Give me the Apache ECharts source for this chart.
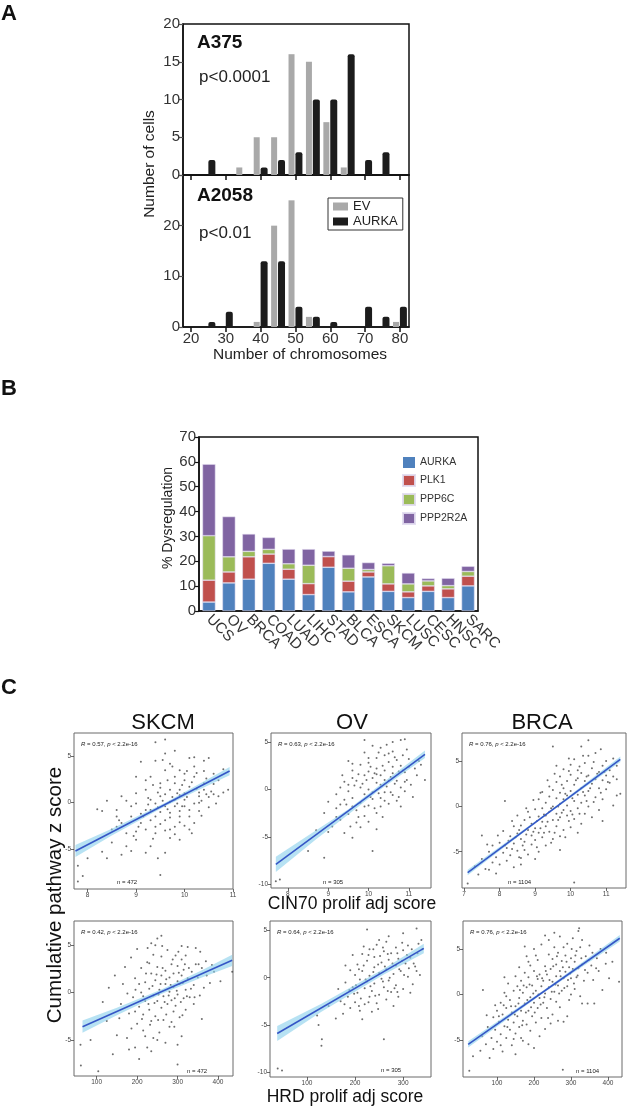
<!DOCTYPE html>
<html>
<head>
<meta charset="utf-8">
<script src="https://cdn.jsdelivr.net/npm/echarts@6/dist/echarts.min.js"></script>
<style>
  html, body { margin: 0; padding: 0; background: #fff; }
  #main { width: 630px; height: 1109px; }
</style>
</head>
<body>
<div id="main"></div>
<script>
// ---------- A: chromosome number histograms ----------
var chromBins  = [25, 30, 35, 40, 45, 50, 55, 60, 65, 70, 75, 80];
var chromTicks = [20, 30, 40, 50, 60, 70, 80];
var a375EV     = [0, 0, 1, 5, 5, 16, 15, 7, 1, 0, 0, 0];
var a375AURKA  = [2, 0, 0, 1, 2, 3, 10, 10, 16, 2, 3, 0];
var a2058EV    = [0, 0, 0, 1, 20, 25, 2, 0, 0, 0, 0, 1];
var a2058AURKA = [1, 3, 0, 13, 13, 4, 2, 1, 0, 4, 2, 4];

// ---------- B: % dysregulation per tumour type ----------
var cancerTypes = ['UCS', 'OV', 'BRCA', 'COAD', 'LUAD', 'LIHC', 'STAD', 'BLCA', 'ESCA', 'SKCM', 'LUSC', 'CESC', 'HNSC', 'SARC'];
var dysAURKA   = [3.6, 11.3, 12.8, 19.2, 12.8, 6.6, 17.6, 7.7, 13.7, 7.9, 5.4, 7.9, 5.4, 10.1];
var dysPLK1    = [8.8, 4.4, 9.0, 3.7, 4.0, 4.4, 4.3, 4.3, 2.0, 3.0, 2.3, 2.2, 3.5, 3.9];
var dysPPP6C   = [17.9, 6.1, 2.2, 1.9, 2.2, 7.4, 0, 5.2, 1.0, 7.3, 3.2, 2.0, 1.3, 1.9];
var dysPPP2R2A = [28.8, 16.2, 7.0, 4.8, 5.9, 6.5, 2.2, 5.4, 2.8, 1.0, 4.4, 1.0, 3.0, 2.1];

// ---------- C: pathway z score vs proliferation scores ----------
var skcmCin = [[9.4,6.5],[9.6,6.8],[9.8,5.6],[10.1,4.8],[10.4,4.5],[10.5,4.8],[9.1,4.4],[9.4,4.5],[9.7,4.2],[9.9,3.5],[10.2,3.9],[10.6,3.1],[10.9,1.4],[10.7,0.7],[10.5,0.6],[8.7,0.7],[8.2,-0.7],[8.3,-0.9],[8.4,0.2],[8.6,-1.5],[8.6,-2.6],[8.7,-2.2],[8.0,-6.0],[7.8,-6.8],[7.9,-7.9],[7.8,-8.5],[8.3,-5.3],[8.4,-6.0],[8.7,-5.6],[8.8,-4.7],[9.0,-4.0],[9.3,-4.7],[9.5,-7.8],[9.6,-5.4],[9.9,-4.0],[10.1,-2.9],[10.2,-2.2],[9.4,-3.3],[9.2,-2.9],[9.1,-2.2],[8.9,-1.5],[9.2,-0.8],[9.4,-0.1],[9.5,0.7],[9.7,1.4],[9.8,2.1],[10.0,2.4],[10.1,1.7],[10.2,2.8],[10.4,2.1],[10.4,1.4],[10.0,0.3],[9.8,-0.4],[9.7,-1.1],[9.6,-1.9],[9.4,-1.5],[9.3,-0.8],[9.2,1.4],[9.2,2.4],[9.3,2.8],[9.6,3.5],[9.8,2.8],[9.9,1.4],[10.0,-0.4],[10.2,-0.1],[10.3,0.7],[10.1,-1.5],[9.8,-2.6],[9.7,-2.9],[10.0,3.1],[10.2,4.9],[9.5,2.1],[9.0,-0.1],[8.9,-0.4],[8.8,-3.3],[9.0,1.0],[8.6,-0.8],[9.9,-1.5],[9.6,-0.4],[9.4,-2.6],[9.8,0.3],[9.6,0.9],[9.7,0.1],[9.9,0.8],[10.3,1.1],[10.6,2.0],[10.8,3.6],[10.3,-0.9],[9.5,-1.0],[9.3,0.3],[9.1,-1.2],[10.0,1.0],[9.9,-0.9],[10.5,-0.5],[9.0,-3.1],[8.5,-4.3],[9.2,-5.4],[10.4,3.4],[9.5,1.6],[9.7,-3.8],
  [9.25,0.5],[9.35,1.9],[9.45,-0.5],[9.55,0.2],[9.65,-0.7],[9.75,0.6],[9.85,-0.1],[9.95,1.9],[10.05,0.6],[10.15,2.2],[10.25,1.5],[10.35,0.2],[10.45,2.6],[10.55,1.2],[9.3,-1.9],[9.5,-2.3],[9.7,-1.6],[9.9,-2.1],[10.1,-0.8],[10.3,0.0],[9.45,1.1],[9.65,2.4],[9.85,1.0],[10.05,3.4],[10.25,3.2],[9.15,-1.5],[9.05,-2.6],[8.95,-3.6],[9.35,-3.9],[9.6,-3.0],[9.8,-3.4],[10.0,-2.5],[10.6,0.9],[10.7,2.4],[10.8,1.1],[9.55,4.6],[9.75,3.9],[8.8,0.2],[8.65,-1.9],[8.5,-2.9],[8.9,-5.2],[9.45,-6.0],[9.0,2.8],[9.6,5.3],[10.35,-1.4],[10.15,-3.3],[9.25,-0.2],[9.95,-0.4],[10.45,0.9],[10.65,-0.1]];
var skcmCinFit  = [[7.75, -5.2], [10.93, 3.4]];
var skcmCinBand = [[7.75,-5.85,-4.55],[8.5,-3.55,-2.8],[9.6,-0.4,0.0],[10.3,1.4,2.0],[10.93,2.95,3.85]];

var ovCin = [[7.7,-9.7],[7.8,-9.5],[8.9,-7.2],[8.5,-6.5],[10.1,-6.5],[9.9,5.2],[10.8,5.2],[10.9,5.3],[10.6,4.0],[10.4,3.6],[10.2,3.3],[10.0,2.8],[10.5,2.9],[10.7,3.1],[11.0,2.4],[11.2,1.5],[11.4,1.0],[10.9,0.8],[11.1,-0.8],[9.6,1.2],[9.5,0.5],[9.3,0.2],[9.2,-0.5],[9.4,-1.1],[9.6,-1.8],[9.5,-2.6],[9.3,-3.2],[9.1,-3.9],[9.0,-4.5],[9.6,-5.1],[9.8,-4.0],[10.0,-3.4],[10.2,-2.5],[10.3,-1.8],[10.1,-1.0],[9.9,-0.5],[9.8,0.2],[9.7,0.9],[9.9,1.5],[10.1,1.2],[10.3,0.5],[10.4,-0.3],[10.5,0.9],[10.6,1.7],[10.4,2.0],[10.2,2.2],[10.0,0.0],[9.8,-1.4],[9.7,-2.2],[9.9,-2.8],[10.1,-0.3],[10.3,1.5],[10.6,-0.6],[10.8,0.2],[10.7,-1.2],[10.5,-1.5],[10.9,1.8],[11.0,3.2],[10.8,2.5],[10.6,2.4],[10.4,1.0],[10.2,0.7],[10.0,1.9],[9.8,2.6],[9.6,2.0],[9.5,-0.2],[9.4,0.8],[9.3,-1.6],[9.7,-3.5],[8.7,-4.3],[8.9,-2.5],[9.2,-2.0],[10.2,-4.2],[10.5,3.8],[10.3,4.4],[9.9,3.9],[10.9,-0.2],[11.3,2.6],[9.6,-0.9],[10.0,-1.7],[10.7,0.9],[10.3,-0.9],[9.0,-1.3],[9.5,3.0],[10.1,4.6],
  [9.85,0.6],[9.95,1.0],[10.05,-0.8],[10.15,1.7],[10.25,-0.4],[10.35,2.5],[10.45,0.3],[10.55,1.3],[10.65,0.6],[10.75,1.9],[10.85,3.6],[10.95,1.0],[11.05,0.5],[10.05,2.4],[10.25,3.9],[10.45,4.7],[10.65,3.4],[10.15,-2.0],[10.35,-2.9],[9.75,-2.9],[9.55,-3.9],[9.45,-1.6],[9.65,0.4],[9.9,-1.8],[10.55,-0.3],[10.75,-0.8],[10.85,2.0],[11.15,2.2],[11.25,3.0],[10.95,4.2],[10.6,5.0],[9.4,-4.6],[9.2,-2.9],[9.35,1.5],[9.75,1.6],[10.0,3.3],[10.2,1.6],[10.4,-1.2],[10.8,-1.8],[9.6,2.7]];
var ovCinFit  = [[7.7, -7.9], [11.4, 3.7]];
var ovCinBand = [[7.7,-8.7,-7.1],[8.7,-5.25,-4.3],[9.5,-2.65,-2.1],[10.2,-0.3,0.2],[11.4,3.3,4.1]];

var brcaCin = [[7.1,-8.5],[7.3,-6.6],[7.5,-5.8],[7.5,-3.2],[7.6,-6.9],[7.7,-5.0],[7.8,-6.2],[7.8,-4.3],[7.9,-5.6],[7.9,-7.4],[7.7,-7.0],[7.4,-7.5],[8.0,-4.0],[8.0,-6.4],[8.1,-5.1],[8.1,-2.7],[8.15,0.6],[8.2,-4.6],[8.2,-6.0],[8.3,-3.3],[8.3,-5.4],[8.4,-2.2],[8.4,-4.1],[8.4,-6.7],[8.5,-3.0],[8.5,-4.9],[8.5,-1.0],[8.6,-3.6],[8.6,-5.7],[8.6,-2.1],[8.7,-1.5],[8.7,-3.9],[8.7,-4.8],[8.8,-2.6],[8.8,-0.6],[8.8,-5.3],[8.9,-3.2],[8.9,-1.9],[8.9,-4.2],[9.0,-0.3],[9.0,-2.4],[9.0,-3.7],[9.0,-5.8],[9.1,-1.1],[9.1,-2.9],[9.1,0.8],[9.2,-1.7],[9.2,-3.4],[9.2,-0.2],[9.2,1.6],[9.3,-2.2],[9.3,0.4],[9.3,-4.3],[9.3,-1.0],[9.4,1.1],[9.4,-0.6],[9.4,-2.8],[9.4,2.2],[9.5,6.6],[9.5,-1.5],[9.5,0.0],[9.5,1.8],[9.5,-3.6],[9.6,-0.8],[9.6,0.9],[9.6,2.7],[9.6,-2.2],[9.7,0.3],[9.7,-1.2],[9.7,1.5],[9.7,3.3],[9.7,-4.8],[9.8,-0.4],[9.8,2.0],[9.8,0.8],[9.8,-2.6],[9.8,4.1],[9.9,1.2],[9.9,-1.0],[9.9,2.8],[9.9,0.1],[10.0,3.5],[10.0,1.7],[10.0,-0.5],[10.0,4.6],[10.0,-2.3],[10.1,0.6],[10.1,2.4],[10.1,5.2],[10.1,-8.4],[10.1,-1.4],[10.2,1.3],[10.2,3.1],[10.2,-0.2],[10.2,4.0],[10.3,6.6],[10.3,2.0],[10.3,0.4],[10.3,3.7],[10.3,-1.9],[10.4,1.2],[10.4,2.8],[10.4,4.8],[10.4,-0.8],[10.5,7.3],[10.5,3.4],[10.5,1.7],[10.5,5.6],[10.5,0.0],[10.6,2.5],[10.6,4.2],[10.6,-1.2],[10.7,3.0],[10.7,5.9],[10.7,1.0],[10.8,3.8],[10.8,2.0],[10.8,-0.4],[10.9,4.5],[10.9,2.9],[10.9,0.8],[11.0,3.4],[11.0,5.0],[11.0,1.9],[11.1,4.0],[11.1,2.6],[11.2,0.1],[11.2,3.3],[11.3,1.2],[11.4,1.4],[11.3,4.5],[11.2,5.3],
  [8.25,-3.8],[8.35,-4.7],[8.45,-3.4],[8.55,-2.6],[8.65,-4.3],[8.75,-3.1],[8.85,-1.2],[8.95,-2.8],[9.05,-1.6],[9.15,-2.4],[9.25,-0.9],[9.35,-1.7],[9.45,-0.2],[9.55,-2.9],[9.65,0.0],[9.75,-0.7],[9.85,1.4],[9.95,-1.6],[10.05,0.9],[10.15,2.9],[10.25,-0.8],[10.35,1.6],[10.45,3.3],[10.55,2.0],[10.65,0.5],[10.75,3.6],[10.85,1.5],[10.95,3.8],[9.05,-4.5],[9.25,-2.9],[9.45,-4.0],[9.65,-1.5],[9.85,-3.4],[10.05,-0.9],[10.25,4.4],[10.45,0.6],[10.65,4.9],[9.35,2.9],[9.55,3.6],[9.75,2.4],[9.95,3.9],[8.95,0.7],[8.75,-0.2],[8.55,-5.6],[8.35,-1.6],[8.15,-4.3],[7.95,-3.2],[7.65,-4.2],[9.15,1.5],[9.95,5.3],[10.85,6.3],[11.05,2.7],[10.35,5.6],[9.6,4.5],[8.6,-6.4],[9.1,-5.0],[9.7,-3.3],[10.2,-2.9],[10.9,-1.6],[11.3,3.0]];
var brcaCinFit  = [[7.1, -7.3], [11.4, 5.2]];
var brcaCinBand = [[7.1,-7.6,-7.0],[9.3,-1.0,-0.8],[11.4,4.9,5.5]];

var skcmHrd = [[61,-7.7],[104,-8.3],[300,-7.6],[435,2.2],[406,1.2],[60,-5.5],[85,-5.0],[125,-3.0],[140,-6.5],[150,-4.5],[160,-1.2],[165,0.9],[130,0.5],[115,-1.0],[175,-4.8],[180,-2.2],[185,3.7],[190,-0.5],[195,1.5],[200,-3.3],[200,4.6],[205,-1.5],[210,0.0],[210,2.6],[215,-4.0],[215,-2.3],[220,-0.9],[220,1.1],[225,3.2],[225,-5.8],[230,0.4],[230,-1.8],[235,2.0],[235,-3.0],[240,-0.3],[240,4.0],[245,1.3],[245,-2.5],[250,5.7],[250,-0.9],[250,2.7],[255,0.3],[255,-4.2],[260,-1.6],[260,1.8],[260,3.8],[265,-0.4],[265,-2.9],[270,0.9],[270,2.3],[275,-1.2],[275,4.5],[280,0.1],[280,-3.6],[280,1.6],[285,3.0],[285,-0.8],[290,-2.0],[290,2.0],[290,0.6],[295,3.9],[295,-1.4],[300,1.2],[300,-0.2],[300,2.8],[305,-2.6],[305,0.9],[310,1.8],[310,3.5],[310,-4.6],[315,-0.6],[315,2.4],[320,0.3],[320,-1.8],[325,1.5],[325,4.8],[330,-0.5],[335,2.2],[340,0.8],[340,-1.2],[345,3.0],[350,1.6],[355,-0.3],[360,2.6],[365,0.5],[370,3.3],[380,1.0],[390,2.2],[360,-2.8],[345,4.7],[270,-5.3],[235,-6.2],[205,-7.0],[245,5.0],[285,-3.1],[230,3.1],[195,-2.0],[170,2.7],[180,-6.0],[240,-4.8],[320,3.9],
  [205,0.9],[215,-0.4],[222,2.0],[228,-1.2],[238,0.7],[243,-1.1],[248,1.9],[253,-0.2],[258,0.9],[263,2.6],[268,-1.0],[272,1.4],[278,-0.3],[283,0.8],[288,3.5],[293,-0.6],[298,0.2],[303,2.1],[308,-1.0],[313,1.0],[318,3.0],[323,-0.4],[328,2.6],[333,0.4],[212,-2.8],[232,-3.4],[252,-2.9],[272,-2.3],[292,-3.6],[312,-2.4],[226,4.7],[262,4.9],[302,4.3],[342,-0.5],[352,3.0],[372,1.8],[186,-3.8],[196,0.3],[176,-0.1],[156,-2.7],[145,1.8],[356,4.3],[250,-5.0],[220,-4.6],[300,-5.5],[260,6.0],[195,-5.8],[385,2.9],[310,4.9],[235,5.2]];
var skcmHrdFit  = [[65, -3.6], [435, 3.4]];
var skcmHrdBand = [[65,-4.25,-2.95],[150,-2.4,-1.6],[260,-0.15,0.33],[360,1.6,2.36],[435,2.8,4.0]];

var ovHrd = [[39,-9.6],[48,-9.8],[130,-7.2],[131,-6.5],[124,-5.0],[121,-4.0],[260,-6.5],[225,5.1],[300,4.7],[328,5.2],[338,4.0],[145,-3.0],[165,-1.2],[170,-2.5],[175,-3.8],[180,-0.5],[185,-2.0],[190,0.8],[190,-3.2],[195,-1.0],[200,-2.6],[200,0.3],[205,1.4],[205,-1.6],[210,-0.2],[210,-3.5],[215,2.5],[215,0.7],[220,-1.1],[220,-2.8],[225,1.8],[225,-0.4],[230,3.0],[230,0.2],[230,-2.0],[235,-1.4],[240,1.1],[240,2.2],[240,-0.6],[245,-2.7],[245,3.5],[250,0.5],[250,-1.8],[255,1.6],[255,-0.1],[260,2.8],[260,-1.0],[265,0.9],[265,3.8],[265,-2.3],[270,1.9],[270,-0.3],[275,-1.5],[275,2.6],[280,0.4],[285,1.3],[285,3.2],[285,-0.8],[290,2.0],[290,-2.0],[295,0.7],[300,2.9],[300,-1.2],[305,1.5],[310,3.4],[310,0.1],[315,2.1],[320,-0.7],[325,1.2],[330,2.6],[335,0.3],[340,3.0],[195,2.4],[235,-3.6],[250,4.0],[280,-3.0],[160,-4.3],[215,-4.4],[270,4.4],[180,1.3],
  [202,-0.8],[208,0.9],[212,-2.2],[218,1.3],[222,-0.2],[228,2.4],[232,-0.9],[238,0.6],[242,-1.9],[248,1.4],[252,2.3],[258,-0.4],[262,1.2],[268,2.5],[272,0.0],[278,1.5],[282,-1.1],[288,2.6],[292,0.9],[298,1.8],[302,0.3],[308,2.4],[312,1.0],[318,3.0],[322,1.5],[328,0.7],[332,3.6],[198,-1.7],[188,-1.3],[178,-2.8],[208,-3.0],[228,-2.6],[248,-3.3],[268,-1.4],[288,-1.5],[258,3.2],[238,3.0],[218,3.3],[298,3.7],[315,-1.6]];
var ovHrdFit  = [[38, -5.9], [343, 3.1]];
var ovHrdBand = [[38,-6.7,-5.1],[130,-3.6,-2.75],[260,0.35,0.95],[343,2.6,3.6]];

var brcaHrd = [[25,-8.4],[278,-8.3],[322,7.3],[385,0.5],[403,1.8],[412,3.6],[394,3.4],[430,1.4],[345,-1.0],[363,-1.0],[62,0.5],[35,-6.8],[55,-6.2],[60,-4.6],[70,-5.5],[75,-3.6],[80,-7.0],[85,-4.8],[90,-2.5],[90,-6.0],[95,-3.9],[100,-1.8],[100,-5.2],[105,-3.0],[110,-4.4],[110,-0.9],[115,-2.2],[115,-6.3],[120,-3.5],[120,0.2],[125,-1.5],[125,-4.8],[130,-2.8],[130,1.2],[135,-0.6],[135,-3.9],[140,-2.0],[140,-5.6],[145,0.4],[145,-3.1],[150,-1.3],[150,2.0],[150,-4.3],[155,-2.4],[155,0.9],[160,-0.4],[160,-3.6],[160,3.0],[165,-1.8],[165,1.5],[170,-2.9],[170,0.2],[170,-5.1],[175,2.4],[175,-1.0],[180,-3.3],[180,0.8],[180,4.2],[185,-1.8],[185,1.9],[190,-0.3],[190,-4.0],[190,3.2],[195,1.0],[195,-2.4],[200,-0.9],[200,2.6],[200,5.0],[205,0.4],[205,-3.1],[210,1.7],[210,-1.5],[210,3.8],[215,-0.4],[215,2.2],[220,0.9],[220,-2.6],[220,5.5],[225,1.5],[225,-0.9],[230,3.1],[230,0.1],[230,-3.8],[235,2.2],[235,-1.5],[240,4.4],[240,0.8],[240,6.0],[245,-0.5],[245,2.8],[250,1.4],[250,-2.2],[250,3.9],[255,0.3],[255,5.2],[260,2.0],[260,-0.8],[260,3.3],[265,1.0],[265,4.6],[270,2.6],[270,-1.4],[270,6.4],[275,0.4],[275,3.7],[280,1.8],[280,-3.0],[285,4.3],[285,2.5],[290,0.9],[290,5.6],[295,3.0],[295,-0.6],[300,1.8],[300,4.0],[305,2.8],[305,6.2],[310,0.6],[310,3.6],[315,4.8],[315,1.9],[320,2.9],[325,-0.2],[325,5.2],[330,3.3],[335,1.5],[340,4.2],[345,2.4],[350,5.4],[355,3.2],[360,1.6],[370,4.0],[375,2.6],[380,5.0],[330,-1.0],[290,-2.4],[200,-5.9],[150,-6.6],[120,1.9],[175,5.3],[230,6.5],[320,7.0],
  [105,-2.4],[118,-1.2],[128,-3.6],[138,-1.3],[148,-2.2],[158,-1.0],[162,0.5],[168,-3.4],[172,1.0],[178,-2.0],[182,-0.6],[188,1.1],[192,-1.4],[198,0.1],[202,-2.0],[208,2.0],[212,0.0],[218,-1.1],[222,1.8],[228,-0.3],[232,2.6],[238,-2.6],[242,1.6],[248,0.3],[252,3.1],[258,1.1],[262,4.2],[268,0.1],[272,2.0],[278,3.0],[282,0.7],[288,3.6],[292,1.6],[298,2.3],[302,5.0],[308,1.2],[312,4.3],[318,2.1],[328,4.0],[338,2.7],[348,3.8],[358,4.6],[368,2.9],[185,3.6],[205,4.3],[165,-4.8],[145,-4.9],[125,-0.2],[95,-1.2],[265,-2.9],[245,-3.2],[215,-4.6],[300,0.0],[330,6.0],[280,5.2],[185,-5.5],[110,-5.6],[72,-2.3],[255,6.8],[395,4.6]];
var brcaHrdFit  = [[22, -5.5], [432, 6.2]];
var brcaHrdBand = [[22,-5.85,-5.15],[230,0.3,0.58],[432,5.85,6.55]];

var FONT = '"Liberation Sans", Arial, Helvetica, sans-serif';
var INK = '#111';
var GREY_EV = '#a9a9a9';
var BLACK_AURKA = '#1c1c1c';
var geneColors = ['#4f81bd', '#c0504d', '#9bbb59', '#8064a2'];
var bandColor = 'rgba(135, 206, 235, 0.6)';
var fitColor = '#3556c6';

function pairs(xs, ys) {
  return xs.map(function (x, i) { return [x, ys[i]]; });
}

var chart = echarts.init(document.getElementById('main'));

var grids = [
  { left: 183, top: 24, width: 226, height: 151 },
  { left: 183, top: 175, width: 226, height: 152 },
  { left: 199, top: 437, width: 279, height: 174 }
];
var xAxes = [];
var yAxes = [];
var series = [];

// --- A axes ---
[0, 1].forEach(function (g) {
  grids[g].show = true;
  grids[g].borderColor = INK;
  grids[g].borderWidth = 1.5;
  xAxes.push({
    gridIndex: g, type: 'value', min: 17.7, max: 82.6,
    axisLine: { show: true, onZero: false, lineStyle: { color: INK, width: 1.5 } },
    axisTick: { show: true, length: 5, customValues: chromTicks, lineStyle: { color: INK, width: 1.5 } },
    axisLabel: { show: g === 1, customValues: chromTicks, fontSize: 15, color: '#333', fontFamily: FONT, margin: 4 },
    splitLine: { show: false }
  });
  yAxes.push({
    gridIndex: g, type: 'value', min: 0, max: g === 0 ? 20 : 30, interval: g === 0 ? 5 : 10,
    axisLine: { show: true, onZero: false, lineStyle: { color: INK, width: 1.5 } },
    axisTick: { show: true, length: 4, lineStyle: { color: '#555', width: 1.2 } },
    axisLabel: {
      fontSize: 15, color: '#333', fontFamily: FONT, margin: 3,
      formatter: function (v) { return v === 30 ? '' : v; }
    },
    splitLine: { show: false }
  });
});

[[a375EV, a375AURKA, 0], [a2058EV, a2058AURKA, 1]].forEach(function (h) {
  series.push({
    name: 'EV', type: 'bar', xAxisIndex: h[2], yAxisIndex: h[2],
    data: pairs(chromBins, h[0]), barWidth: 6, barGap: '15%',
    itemStyle: { color: GREY_EV }
  });
  series.push({
    name: 'AURKA', type: 'bar', xAxisIndex: h[2], yAxisIndex: h[2],
    data: pairs(chromBins, h[1]), barWidth: 7, barGap: '15%',
    itemStyle: { color: BLACK_AURKA, borderRadius: [2, 2, 0, 0] }
  });
});

// --- B axes ---
grids[2].show = true;
grids[2].borderColor = INK;
grids[2].borderWidth = 1.5;
xAxes.push({
  gridIndex: 2, type: 'category', data: cancerTypes,
  axisLine: { show: true, lineStyle: { color: INK, width: 1.5 } },
  axisTick: { show: false },
  axisLabel: { interval: 0, rotate: -45, fontSize: 15, color: '#333', fontFamily: FONT, margin: 6 }
});
yAxes.push({
  gridIndex: 2, type: 'value', min: 0, max: 70, interval: 10,
  axisLine: { show: true, lineStyle: { color: INK, width: 1.5 } },
  axisTick: { show: true, length: 4, lineStyle: { color: INK, width: 1.2 } },
  axisLabel: { fontSize: 15, color: '#333', fontFamily: FONT, margin: 3 },
  splitLine: { show: false }
});
[['AURKA', dysAURKA], ['PLK1', dysPLK1], ['PPP6C', dysPPP6C], ['PPP2R2A', dysPPP2R2A]].forEach(function (s, i) {
  series.push({
    name: s[0], type: 'bar', stack: 'dys', xAxisIndex: 2, yAxisIndex: 2,
    data: s[1], barWidth: 13,
    itemStyle: { color: geneColors[i], borderColor: 'rgba(225,220,240,0.9)', borderWidth: 0.6 }
  });
});

// --- C scatter panels ---
var scatterPanels = [
  { pts: skcmCin, fit: skcmCinFit, band: skcmCinBand, box: [74, 733, 159, 156], xr: [7.72, 11.0], yr: [-9.3, 7.5], xt: [8, 9, 10, 11], yt: [-5, 0, 5], r: '0.57', n: '472', nPos: [117, 882] },
  { pts: ovCin, fit: ovCinFit, band: ovCinBand, box: [271, 733, 160, 155], xr: [7.58, 11.55], yr: [-10.4, 5.95], xt: [8, 9, 10, 11], yt: [-10, -5, 0, 5], r: '0.63', n: '305', nPos: [323, 882] },
  { pts: brcaCin, fit: brcaCinFit, band: brcaCinBand, box: [462, 733, 164, 155], xr: [6.94, 11.56], yr: [-9, 8.1], xt: [7, 8, 9, 10, 11], yt: [-5, 0, 5], r: '0.76', n: '1104', nPos: [508, 882] },
  { pts: skcmHrd, fit: skcmHrdFit, band: skcmHrdBand, box: [74, 921, 159, 155], xr: [44, 437], yr: [-8.8, 7.55], xt: [100, 200, 300, 400], yt: [-5, 0, 5], r: '0.42', n: '472', nPos: [187, 1071] },
  { pts: ovHrd, fit: ovHrdFit, band: ovHrdBand, box: [270, 921, 161, 156], xr: [23, 358], yr: [-10.5, 6], xt: [100, 200, 300], yt: [-10, -5, 0, 5], r: '0.64', n: '305', nPos: [381, 1070] },
  { pts: brcaHrd, fit: brcaHrdFit, band: brcaHrdBand, box: [463, 921, 159, 156], xr: [8, 438], yr: [-9.1, 8.1], xt: [100, 200, 300, 400], yt: [-5, 0, 5], r: '0.76', n: '1104', nPos: [576, 1071] }
];

var graphics = [];

function bandRenderer(band) {
  return function (params, api) {
    if (params.dataIndex !== 0) return;
    var upper = band.map(function (b) { return api.coord([b[0], b[2]]); });
    var lower = band.map(function (b) { return api.coord([b[0], b[1]]); }).reverse();
    return { type: 'polygon', shape: { points: upper.concat(lower) }, style: { fill: bandColor } };
  };
}

scatterPanels.forEach(function (p) {
  var g = grids.length;
  grids.push({
    left: p.box[0], top: p.box[1], width: p.box[2], height: p.box[3],
    show: true, borderColor: '#6a6a6a', borderWidth: 1, backgroundColor: '#fff'
  });
  xAxes.push({
    gridIndex: g, type: 'value', min: p.xr[0], max: p.xr[1],
    axisLine: { show: false, onZero: false },
    axisTick: { show: true, length: 3, customValues: p.xt, lineStyle: { color: '#444', width: 0.8 } },
    axisLabel: { customValues: p.xt, fontSize: 6.5, color: '#444', fontFamily: FONT, margin: 3 },
    splitLine: { show: false }
  });
  yAxes.push({
    gridIndex: g, type: 'value', min: p.yr[0], max: p.yr[1],
    axisLine: { show: false, onZero: false },
    axisTick: { show: true, length: 3, customValues: p.yt, lineStyle: { color: '#444', width: 0.8 } },
    axisLabel: { customValues: p.yt, fontSize: 6.5, color: '#444', fontFamily: FONT, margin: 3 },
    splitLine: { show: false }
  });
  series.push({
    type: 'scatter', xAxisIndex: g, yAxisIndex: g, data: p.pts,
    symbolSize: 2, itemStyle: { color: '#3c3c3c', opacity: 0.75 }, z: 2, silent: true
  });
  series.push({
    type: 'custom', xAxisIndex: g, yAxisIndex: g, data: p.band,
    renderItem: bandRenderer(p.band), z: 3, silent: true
  });
  series.push({
    type: 'line', xAxisIndex: g, yAxisIndex: g, data: p.fit,
    showSymbol: false, symbol: 'none', lineStyle: { color: fitColor, width: 1.6 }, z: 4, silent: true
  });
  graphics.push({
    type: 'text', x: p.box[0] + 7, y: p.box[1] + 11,
    style: {
      text: '{i|R} = ' + p.r + ', {i|p} < 2.2e-16',
      fontSize: 6, fontFamily: FONT, fill: '#222', verticalAlign: 'middle',
      rich: { i: { fontStyle: 'italic', fontSize: 6, fontFamily: FONT, fill: '#222' } }
    }
  });
  graphics.push({
    type: 'text', x: p.nPos[0], y: p.nPos[1],
    style: { text: 'n = ' + p.n, fontSize: 6, fontFamily: FONT, fill: '#222', verticalAlign: 'middle' }
  });
});

function label(text, x, y, size, opts) {
  opts = opts || {};
  return {
    type: 'text', x: x, y: y, rotation: opts.rotation || 0,
    style: {
      text: text, fontSize: size, fontFamily: FONT, fontWeight: opts.bold ? 'bold' : 'normal',
      fill: opts.fill || '#111', align: opts.align || 'left', verticalAlign: 'middle'
    }
  };
}

graphics.push(
  label('A', 1, 14, 22, { bold: true }),
  label('B', 1, 389, 22, { bold: true }),
  label('C', 1, 688, 22, { bold: true }),
  label('A375', 197, 43, 19, { bold: true }),
  label('p<0.0001', 199, 77, 17, { fill: '#222' }),
  label('A2058', 197, 196, 19, { bold: true }),
  label('p<0.01', 199, 233, 17, { fill: '#222' }),
  label('Number of cells', 150, 164, 15.5, { rotation: Math.PI / 2, align: 'center', fill: '#222' }),
  label('Number of chromosomes', 300, 355, 15.5, { align: 'center', fill: '#222' }),
  label('% Dysregulation', 168, 518, 14, { rotation: Math.PI / 2, align: 'center', fill: '#222' }),
  label('SKCM', 163, 723, 22, { align: 'center' }),
  label('OV', 352, 723, 22, { align: 'center' }),
  label('BRCA', 542, 723, 22, { align: 'center' }),
  label('CIN70 prolif adj score', 352, 904, 17.5, { align: 'center' }),
  label('HRD prolif adj score', 345, 1097, 17.5, { align: 'center' }),
  label('Cumulative pathway z score', 55, 895, 20.5, { rotation: Math.PI / 2, align: 'center' })
);

var option = {
  animation: false,
  backgroundColor: '#fff',
  grid: grids,
  xAxis: xAxes,
  yAxis: yAxes,
  legend: [
    {
      left: 328, top: 198, orient: 'vertical', padding: [2, 5, 2, 5], itemGap: 2,
      itemWidth: 15, itemHeight: 8, icon: 'rect', borderColor: '#333', borderWidth: 1,
      textStyle: { fontSize: 13, color: '#222', fontFamily: FONT },
      data: [
        { name: 'EV', itemStyle: { color: GREY_EV } },
        { name: 'AURKA', itemStyle: { color: BLACK_AURKA } }
      ]
    },
    {
      left: 397, top: 452, orient: 'vertical', itemGap: 6,
      itemWidth: 12, itemHeight: 11, icon: 'rect',
      textStyle: { fontSize: 10.5, color: '#333', fontFamily: FONT },
      data: ['AURKA', 'PLK1', 'PPP6C', 'PPP2R2A'].map(function (n, i) {
        return { name: n, itemStyle: { color: geneColors[i] } };
      })
    }
  ],
  graphic: graphics,
  series: series
};

chart.setOption(option);
</script>
</body>
</html>
